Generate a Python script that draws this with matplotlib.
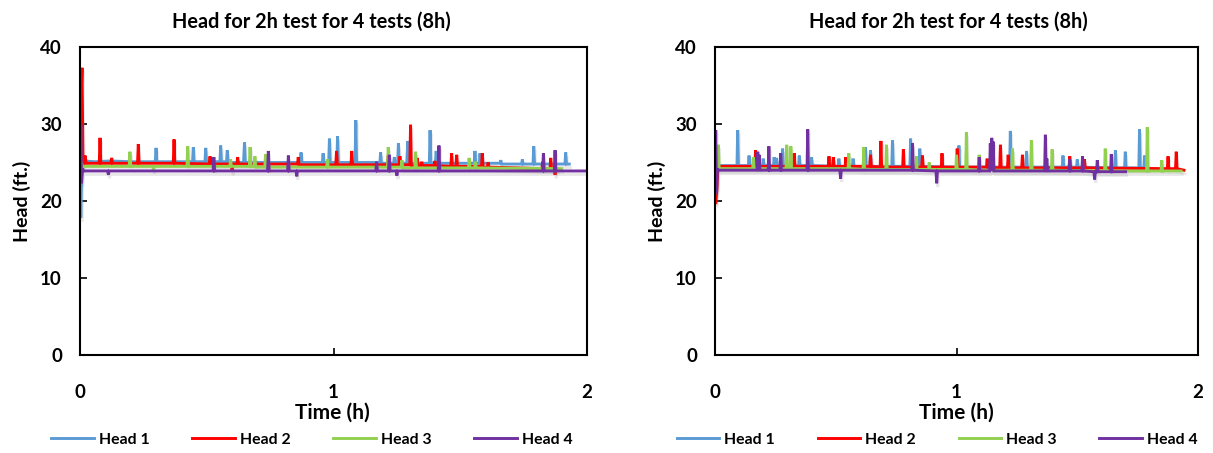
import matplotlib
matplotlib.use("Agg")
import matplotlib.pyplot as plt
import matplotlib.patheffects as pe
from matplotlib.lines import Line2D

plt.rcParams['font.family'] = ['Lato', 'DejaVu Sans']
plt.rcParams['font.weight'] = 'bold'

TITLE = "Head for 2h test for 4 tests (8h)"
SERIES_NAMES = ["Head 1", "Head 2", "Head 3", "Head 4"]
SERIES_COLORS = ["#5B9BD5", "#FF0000", "#92D050", "#7030A0"]
X_TICKS = [0, 1, 2]
Y_TICKS = [0, 10, 20, 30, 40]

# (time h, head ft) readings, first test set
left_head1 = [
    (0.000, 26.5), (0.003, 17.8), (0.007, 24.2), (0.012, 25.2),
    (0.060, 25.1), (0.120, 25.2), (0.200, 25.1),
    (0.297, 25.1), (0.300, 26.9), (0.303, 25.1),
    (0.444, 25.1), (0.447, 27.0), (0.450, 25.1),
    (0.493, 25.1), (0.496, 26.9), (0.499, 25.1),
    (0.552, 25.1), (0.555, 27.2), (0.558, 25.1),
    (0.578, 25.1), (0.581, 26.6), (0.584, 25.0),
    (0.645, 25.0), (0.649, 27.6), (0.652, 25.0),
    (0.869, 25.0), (0.872, 26.3), (0.875, 25.0),
    (0.956, 25.0), (0.959, 26.2), (0.962, 25.0),
    (0.981, 25.0), (0.984, 28.1), (0.987, 25.0),
    (1.013, 25.0), (1.016, 28.4), (1.019, 25.0),
    (1.085, 25.0), (1.088, 30.5), (1.091, 25.0),
    (1.183, 25.0), (1.186, 26.3), (1.189, 24.9),
    (1.237, 24.9), (1.240, 25.7), (1.243, 24.9),
    (1.253, 24.9), (1.256, 27.5), (1.259, 24.9),
    (1.289, 24.9), (1.293, 27.8), (1.296, 24.9),
    (1.378, 24.9), (1.381, 29.2), (1.384, 24.9),
    (1.402, 24.9), (1.405, 26.5), (1.408, 24.9),
    (1.555, 24.9), (1.558, 26.5), (1.561, 24.9),
    (1.575, 24.9), (1.578, 26.2), (1.581, 24.9),
    (1.657, 24.9), (1.660, 25.3), (1.663, 24.8),
    (1.742, 24.8), (1.745, 25.4), (1.748, 24.8),
    (1.787, 24.8), (1.790, 27.1), (1.793, 24.8),
    (1.913, 24.8), (1.916, 26.3), (1.919, 24.8),
    (1.930, 24.8),
]
left_head2 = [
    (0.000, 24.0), (0.004, 33.0), (0.008, 37.3), (0.012, 24.5), (0.016, 25.2),
    (0.020, 25.9), (0.024, 24.9),
    (0.076, 24.9), (0.079, 28.2), (0.082, 24.9),
    (0.122, 24.9), (0.125, 25.6), (0.128, 24.9),
    (0.227, 24.9), (0.230, 27.4), (0.233, 24.9),
    (0.368, 24.9), (0.371, 28.0), (0.374, 24.9),
    (0.510, 24.8), (0.513, 25.8), (0.516, 24.8),
    (0.597, 24.8), (0.600, 23.8), (0.603, 24.8),
    (0.619, 24.8), (0.622, 25.7), (0.625, 24.8),
    (0.858, 24.8), (0.861, 25.7), (0.864, 24.7),
    (1.009, 24.7), (1.012, 26.5), (1.015, 24.7),
    (1.069, 24.7), (1.072, 26.5), (1.075, 24.7),
    (1.213, 24.7), (1.216, 25.9), (1.219, 24.7),
    (1.259, 24.7), (1.262, 25.8), (1.265, 24.7),
    (1.301, 24.7), (1.304, 29.9), (1.307, 24.6),
    (1.327, 24.6), (1.330, 25.6), (1.333, 24.6),
    (1.345, 24.6), (1.348, 25.1), (1.351, 24.6),
    (1.397, 24.6), (1.400, 25.2), (1.403, 24.6),
    (1.463, 24.5), (1.466, 26.2), (1.469, 24.5),
    (1.483, 24.5), (1.486, 26.0), (1.489, 24.5),
    (1.584, 24.5), (1.587, 26.2), (1.590, 24.4),
    (1.607, 24.4), (1.610, 25.0), (1.613, 24.4),
    (1.822, 24.2), (1.825, 25.1), (1.828, 24.2),
    (1.854, 24.2), (1.857, 25.6), (1.860, 24.2),
    (1.871, 24.1), (1.874, 23.4), (1.877, 24.1),
    (1.882, 24.1),
]
left_head3 = [
    (0.000, 24.0), (0.005, 25.0), (0.010, 24.5),
    (0.194, 24.5), (0.197, 26.4), (0.200, 24.5),
    (0.287, 24.5), (0.290, 24.0), (0.293, 24.5),
    (0.422, 24.5), (0.425, 27.1), (0.428, 24.5),
    (0.591, 24.5), (0.594, 25.4), (0.597, 24.5),
    (0.668, 24.5), (0.671, 27.0), (0.674, 24.5),
    (0.687, 24.5), (0.690, 25.8), (0.693, 24.4),
    (0.729, 24.4), (0.732, 26.1), (0.735, 24.4),
    (0.973, 24.4), (0.976, 25.4), (0.979, 24.4),
    (1.213, 24.4), (1.216, 27.0), (1.219, 24.4),
    (1.267, 24.4), (1.270, 25.3), (1.273, 24.3),
    (1.321, 24.3), (1.324, 26.4), (1.327, 24.3),
    (1.532, 24.3), (1.535, 25.6), (1.538, 24.3),
    (1.557, 24.3), (1.560, 25.1), (1.563, 24.3),
    (1.900, 24.2),
]
left_head4 = [
    (0.000, 24.0), (0.003, 30.0), (0.006, 22.3), (0.010, 24.2), (0.014, 23.9),
    (0.109, 23.9), (0.112, 23.4), (0.115, 23.9),
    (0.525, 23.9), (0.528, 25.7), (0.531, 23.9),
    (0.740, 23.9), (0.743, 26.5), (0.746, 23.9),
    (0.819, 23.9), (0.822, 25.9), (0.825, 23.9),
    (0.852, 23.9), (0.855, 23.2), (0.858, 23.9),
    (1.167, 23.9), (1.170, 25.1), (1.173, 23.9),
    (1.217, 23.9), (1.220, 26.0), (1.223, 23.9),
    (1.247, 23.9), (1.250, 23.3), (1.253, 23.9),
    (1.413, 23.9), (1.416, 27.2), (1.419, 23.9),
    (1.825, 23.9), (1.828, 26.2), (1.831, 23.9),
    (1.871, 23.9), (1.874, 26.6), (1.877, 23.9),
    (2.000, 23.9),
]

# (time h, head ft) readings, second test set
right_head1 = [
    (0.000, 24.0), (0.004, 22.0), (0.008, 24.6),
    (0.091, 24.6), (0.094, 29.2), (0.097, 24.6),
    (0.138, 24.6), (0.141, 25.9), (0.144, 24.6),
    (0.197, 24.6), (0.200, 25.5), (0.203, 24.6),
    (0.242, 24.6), (0.245, 25.7), (0.248, 24.6),
    (0.252, 24.6), (0.255, 25.6), (0.258, 24.6),
    (0.277, 24.6), (0.280, 26.8), (0.283, 24.6),
    (0.346, 24.6), (0.349, 25.9), (0.352, 24.6),
    (0.397, 24.6), (0.400, 25.7), (0.403, 24.6),
    (0.510, 24.5), (0.513, 25.5), (0.516, 24.5),
    (0.569, 24.5), (0.572, 25.5), (0.575, 24.5),
    (0.620, 24.5), (0.623, 27.0), (0.626, 24.5),
    (0.641, 24.5), (0.644, 26.6), (0.647, 24.5),
    (0.732, 24.5), (0.735, 27.9), (0.738, 24.5),
    (0.807, 24.5), (0.810, 28.1), (0.813, 24.5),
    (0.845, 24.5), (0.848, 26.8), (0.851, 24.5),
    (1.007, 24.4), (1.010, 27.2), (1.013, 24.4),
    (1.220, 24.4), (1.223, 29.1), (1.226, 24.4),
    (1.287, 24.4), (1.290, 26.5), (1.293, 24.4),
    (1.438, 24.4), (1.441, 25.9), (1.444, 24.4),
    (1.497, 24.4), (1.500, 25.4), (1.503, 24.4),
    (1.655, 24.3), (1.658, 26.6), (1.661, 24.3),
    (1.696, 24.3), (1.699, 26.4), (1.702, 24.3),
    (1.755, 24.3), (1.758, 29.3), (1.761, 24.3),
    (1.776, 24.3), (1.779, 25.9), (1.782, 24.3),
    (1.790, 24.3),
]
right_head2 = [
    (0.000, 20.0), (0.004, 19.9), (0.008, 21.5), (0.012, 24.5),
    (0.165, 24.5), (0.168, 26.6), (0.171, 24.5),
    (0.325, 24.5), (0.328, 26.2), (0.331, 24.5),
    (0.469, 24.5), (0.472, 25.8), (0.475, 24.5),
    (0.487, 24.5), (0.490, 25.7), (0.493, 24.5),
    (0.539, 24.5), (0.542, 25.7), (0.545, 24.5),
    (0.641, 24.5), (0.644, 26.0), (0.647, 24.5),
    (0.684, 24.4), (0.687, 27.8), (0.690, 24.4),
    (0.777, 24.4), (0.780, 26.7), (0.783, 24.4),
    (0.856, 24.4), (0.859, 25.9), (0.862, 24.4),
    (0.937, 24.4), (0.940, 26.2), (0.943, 24.4),
    (1.000, 24.4), (1.003, 26.8), (1.006, 24.4),
    (1.124, 24.4), (1.127, 25.5), (1.130, 24.4),
    (1.179, 24.3), (1.182, 27.3), (1.185, 24.3),
    (1.211, 24.3), (1.214, 26.0), (1.217, 24.3),
    (1.270, 24.3), (1.273, 26.0), (1.276, 24.3),
    (1.466, 24.3), (1.469, 25.8), (1.472, 24.3),
    (1.527, 24.3), (1.530, 25.4), (1.533, 24.3),
    (1.873, 24.2), (1.876, 25.8), (1.879, 24.2),
    (1.907, 24.2), (1.910, 26.4), (1.913, 24.2),
    (1.942, 24.0),
]
right_head3 = [
    (0.000, 24.0), (0.006, 25.0), (0.011, 24.2), (0.014, 27.3), (0.017, 24.2),
    (0.156, 24.2), (0.159, 25.7), (0.162, 24.2),
    (0.294, 24.2), (0.297, 27.3), (0.300, 24.2),
    (0.311, 24.2), (0.314, 27.1), (0.317, 24.2),
    (0.551, 24.2), (0.554, 26.2), (0.557, 24.2),
    (0.613, 24.1), (0.616, 27.0), (0.619, 24.1),
    (0.707, 24.1), (0.710, 27.3), (0.713, 24.1),
    (0.831, 24.1), (0.834, 25.8), (0.837, 24.1),
    (0.884, 24.1), (0.887, 25.0), (0.890, 24.1),
    (0.997, 24.1), (1.000, 26.0), (1.003, 24.1),
    (1.038, 24.1), (1.041, 28.9), (1.044, 24.1),
    (1.091, 24.0), (1.094, 26.0), (1.097, 24.0),
    (1.229, 24.0), (1.232, 26.8), (1.235, 24.0),
    (1.307, 24.0), (1.310, 27.9), (1.313, 24.0),
    (1.393, 24.0), (1.396, 26.7), (1.399, 24.0),
    (1.613, 23.9), (1.616, 26.8), (1.619, 23.9),
    (1.787, 23.9), (1.790, 29.6), (1.793, 23.9),
    (1.847, 23.9), (1.850, 25.3), (1.853, 23.9),
    (1.930, 23.9),
]
right_head4 = [
    (0.000, 24.0), (0.003, 29.2), (0.006, 21.0), (0.010, 24.2), (0.014, 24.0),
    (0.174, 24.0), (0.177, 26.4), (0.180, 24.0), (0.183, 26.0), (0.186, 24.0),
    (0.220, 24.0), (0.223, 27.1), (0.226, 24.0),
    (0.269, 24.0), (0.272, 26.2), (0.275, 24.0),
    (0.381, 24.0), (0.384, 29.3), (0.387, 24.0),
    (0.517, 24.0), (0.520, 22.9), (0.523, 24.0),
    (0.815, 24.0), (0.818, 27.5), (0.821, 24.0),
    (0.915, 23.9), (0.918, 22.3), (0.921, 23.9),
    (1.091, 23.9), (1.094, 25.7), (1.097, 23.9),
    (1.137, 23.9), (1.140, 27.5), (1.143, 23.9), (1.146, 28.2), (1.149, 23.9),
    (1.152, 27.7), (1.155, 23.9),
    (1.365, 23.9), (1.368, 28.6), (1.371, 23.9), (1.374, 25.5), (1.377, 23.9),
    (1.466, 23.9), (1.469, 25.4), (1.472, 23.9),
    (1.519, 23.9), (1.522, 25.8), (1.525, 23.9),
    (1.569, 23.8), (1.572, 22.8), (1.575, 23.8),
    (1.580, 23.8), (1.583, 25.3), (1.586, 23.8),
    (1.638, 23.8), (1.641, 26.1), (1.644, 23.8),
    (1.700, 23.8),
]

W, H = 1213, 453
panels = [
    {"rect": [80 / W, 98 / H, 507 / W, 308 / H],
     "series": [left_head1, left_head2, left_head3, left_head4],
     "title_x": 311, "xlabel_x": 332, "ylabel_x": 22, "legend_x": 312},
    {"rect": [715 / W, 98 / H, 483 / W, 308 / H],
     "series": [right_head1, right_head2, right_head3, right_head4],
     "title_x": 948, "xlabel_x": 956, "ylabel_x": 657, "legend_x": 937},
]

fig = plt.figure(figsize=(W / 100, H / 100), dpi=100)

line_fx = [pe.SimpleLineShadow(offset=(0.8, -2.5), shadow_color="0.5", alpha=0.18),
           pe.Normal()]

for p in panels:
    ax = fig.add_axes(p["rect"])
    for data, name, color in zip(p["series"], SERIES_NAMES, SERIES_COLORS):
        t = [d[0] for d in data]
        h = [d[1] for d in data]
        ax.plot(t, h, color=color, lw=2.1, label=name, solid_joinstyle="miter",
                path_effects=line_fx)
    ax.set_xlim(0, 2)
    ax.set_ylim(0, 40)
    ax.set_xticks(X_TICKS)
    ax.set_yticks(Y_TICKS)
    ax.tick_params(direction="in", length=5, width=1.2, labelsize=13.5)
    ax.tick_params(axis="x", pad=21)
    ax.tick_params(axis="y", pad=13)
    for lab in ax.get_xticklabels() + ax.get_yticklabels():
        lab.set_fontweight("bold")
    for s in ax.spines.values():
        s.set_linewidth(1.5)

    fig.text(p["title_x"] / W, 1 - 22 / H, TITLE, ha="center", va="center",
             fontsize=14.3, fontweight="bold")
    fig.text(p["xlabel_x"] / W, 1 - 413 / H, "Time (h)", ha="center", va="center",
             fontsize=15, fontweight="bold")
    fig.text(p["ylabel_x"] / W, 1 - 201 / H, "Head (ft.)", ha="center", va="center",
             rotation=90, fontsize=14, fontweight="bold")

    handles = [Line2D([], [], color=c, lw=2.1) for c in SERIES_COLORS]
    fig.legend(handles, SERIES_NAMES, loc="center",
               bbox_to_anchor=(p["legend_x"] / W, 1 - 440 / H), ncol=4,
               frameon=False, handlelength=2.7, handletextpad=0.3,
               columnspacing=2.7, prop={"weight": "bold", "size": 11.4})

fig.savefig("out.png", dpi=100)
